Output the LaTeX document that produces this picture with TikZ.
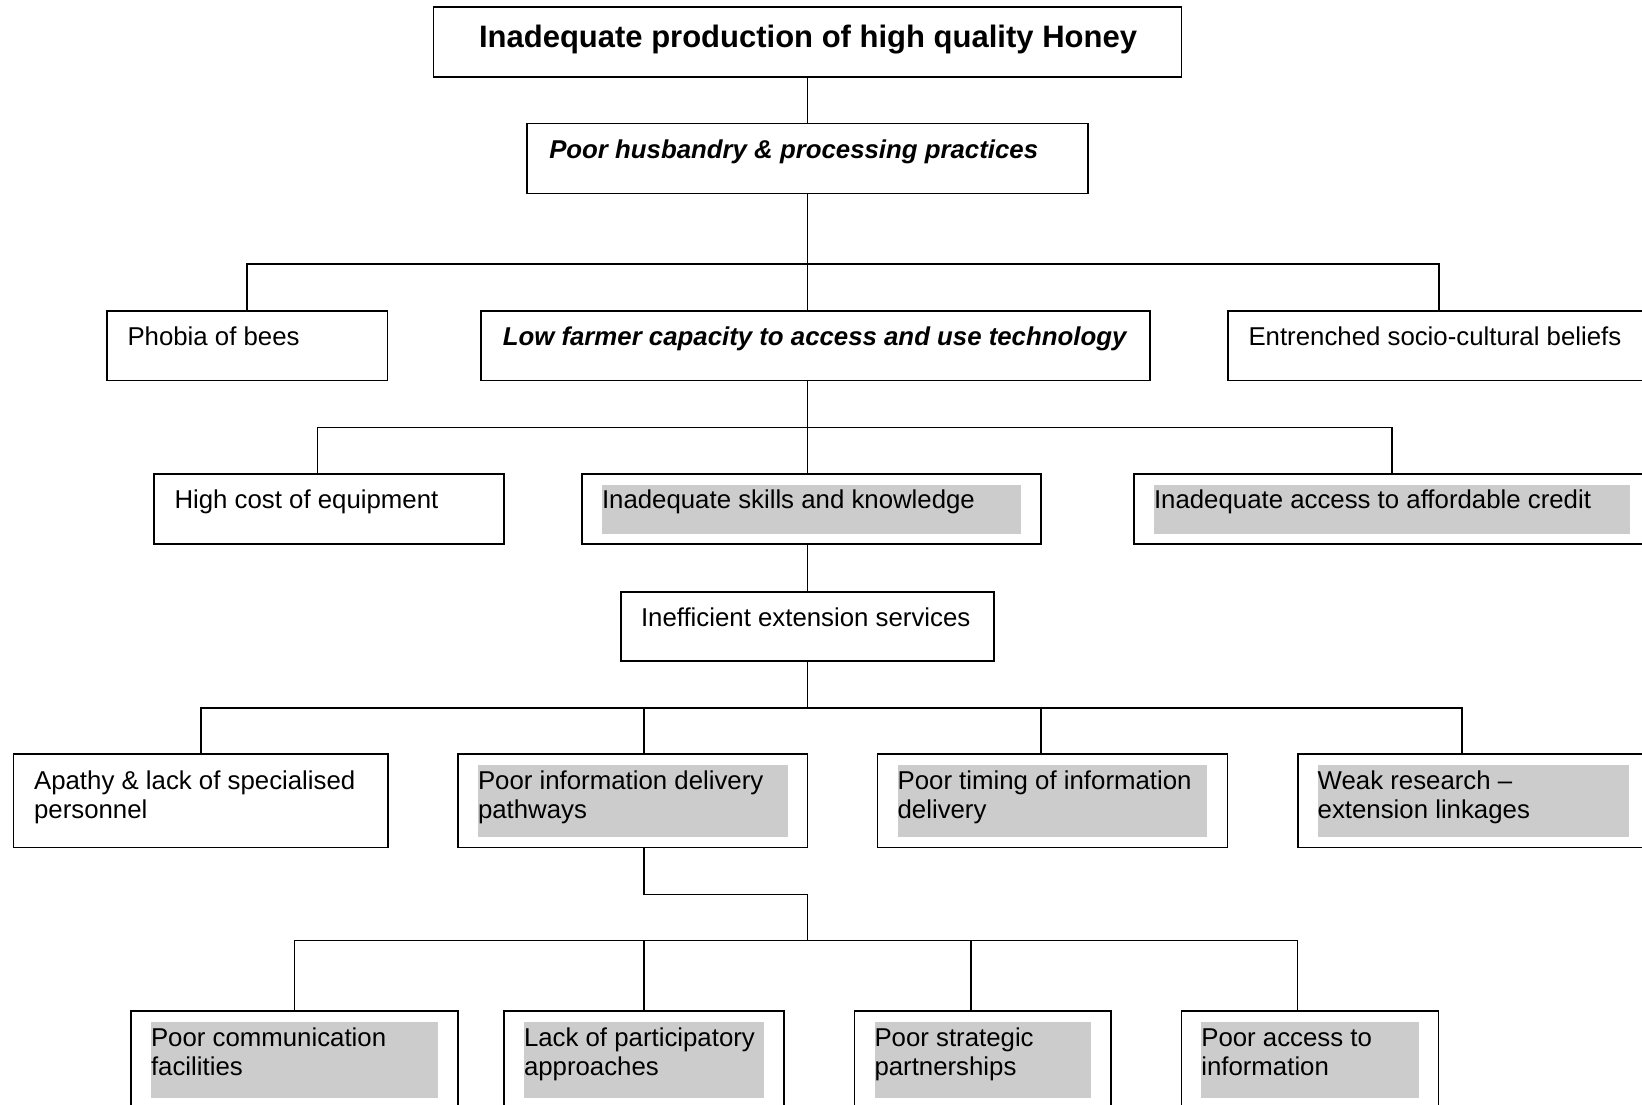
\documentclass[tikz,border=0pt]{standalone}
\usepackage{fontspec}
\setmainfont{Liberation Sans}

\tikzset{
  box/.style={draw, rectangle, inner sep=0pt},
  hlbox/.style={box, path picture={
      \fill[black!20] ([shift={(20,10.5)}]path picture bounding box.north west)
        rectangle ([shift={(-20,-10.5)}]path picture bounding box.south east);}},
  lbl/.style={anchor=base west, inner sep=0pt, align=left,
      font=\fontsize{25.8}{29}\selectfont},
}

\begin{document}
\begin{tikzpicture}[x=1pt, y=-1pt, line width=1.6pt]
  \useasboundingbox (0,0) rectangle (1642,1104);
  \clip (0,0) rectangle (1642,1104);
  % Boxes, top to bottom
  \node[box, minimum width=748pt, minimum height=70pt] (honey) at (807.5,42) {};
  \node[box, minimum width=560.5pt, minimum height=70pt] (husbandry) at (807.5,158.5) {};
  \node[box, minimum width=280.5pt, minimum height=69.5pt] (phobia) at (247.25,345.75) {};
  \node[box, minimum width=669pt, minimum height=69.5pt] (capacity) at (815.25,345.75) {};
  \node[box, minimum width=422pt, minimum height=69.5pt] (beliefs) at (1439,345.75) {};
  \node[box, minimum width=350pt, minimum height=70pt] (cost) at (329,509) {};
  \node[hlbox, minimum width=459pt, minimum height=70pt] (skills) at (811.5,509) {};
  \node[hlbox, minimum width=516pt, minimum height=70pt] (credit) at (1392,509) {};
  \node[box, minimum width=373pt, minimum height=69pt] (extension) at (807.5,626.25) {};
  \node[box, minimum width=374.4pt, minimum height=93.5pt] (apathy) at (200.8,800.75) {};
  \node[hlbox, minimum width=349.5pt, minimum height=93.5pt] (delivery) at (632.75,800.75) {};
  \node[hlbox, minimum width=349.7pt, minimum height=93.5pt] (timing) at (1052.45,800.75) {};
  \node[hlbox, minimum width=351.3pt, minimum height=93.5pt] (linkages) at (1473.35,800.75) {};
  \node[hlbox, minimum width=327pt, minimum height=97pt] (comms) at (294.5,1059.5) {};
  \node[hlbox, minimum width=280pt, minimum height=97pt] (participatory) at (644,1059.5) {};
  \node[hlbox, minimum width=256.5pt, minimum height=97pt] (partners) at (982.75,1059.5) {};
  \node[hlbox, minimum width=257.2pt, minimum height=97pt] (access) at (1309.9,1059.5) {};

  % Texts (two-line texts sit on their last baseline)
  \node[lbl, anchor=base, font=\fontsize{31}{35}\selectfont\bfseries] (honey-t)
    at ([shift={(0.5,41)}]honey.north) {Inadequate production of high quality Honey};
  \node[lbl, font=\fontsize{25.8}{29}\selectfont\bfseries\itshape] (husbandry-t)
    at ([shift={(22,36)}]husbandry.north west) {Poor husbandry \& processing practices};
  \node[lbl] (phobia-t) at ([shift={(20.5,35.5)}]phobia.north west) {Phobia of bees};
  \node[lbl, font=\fontsize{25.8}{29}\selectfont\bfseries\itshape] (capacity-t)
    at ([shift={(22,35.5)}]capacity.north west) {Low farmer capacity to access and use technology};
  \node[lbl] (beliefs-t) at ([shift={(20.5,35.5)}]beliefs.north west) {Entrenched socio-cultural beliefs};
  \node[lbl] (cost-t) at ([shift={(20.5,35.5)}]cost.north west) {High cost of equipment};
  \node[lbl] (skills-t) at ([shift={(20,35.5)}]skills.north west) {Inadequate skills and knowledge};
  \node[lbl] (credit-t) at ([shift={(20,35.5)}]credit.north west) {Inadequate access to affordable credit};
  \node[lbl] (extension-t) at ([shift={(20,35.5)}]extension.north west) {Inefficient extension services};
  \node[lbl] (apathy-t) at ([shift={(20.5,64.8)}]apathy.north west) {Apathy \& lack of specialised\\personnel};
  \node[lbl] (delivery-t) at ([shift={(20,64.8)}]delivery.north west) {Poor information delivery\\pathways};
  \node[lbl] (timing-t) at ([shift={(20,64.8)}]timing.north west) {Poor timing of information\\delivery};
  \node[lbl] (linkages-t) at ([shift={(20,64.8)}]linkages.north west) {Weak research –\\extension linkages};
  \node[lbl] (comms-t) at ([shift={(20,64.8)}]comms.north west) {Poor communication\\facilities};
  \node[lbl] (participatory-t) at ([shift={(20,64.8)}]participatory.north west) {Lack of participatory\\approaches};
  \node[lbl] (partners-t) at ([shift={(20,64.8)}]partners.north west) {Poor strategic\\partnerships};
  \node[lbl] (access-t) at ([shift={(20,64.8)}]access.north west) {Poor access to\\information};

  % Junctions of the tree
  \coordinate (j1) at (807.5,264);
  \coordinate (j2) at (807.5,427.3);
  \coordinate (j3) at (807.5,708);
  \coordinate (j4) at (644,894.3);
  \coordinate (j5) at (807.5,940.5);
  \coordinate (c1) at (317.5,427.3);
  \coordinate (d1) at (644,708);
  \coordinate (d2) at (1041,708);
  \coordinate (d3) at (1462,708);
  \coordinate (e1) at (971,940.5);
  \coordinate (e2) at (1297.5,940.5);

  % Draw the links
  \draw (honey.south) -- (husbandry.north);
  \draw (husbandry.south) -- (j1);
  \draw (phobia.north) |- (j1) -| (beliefs.north);
  \draw (j1) -- (j1 |- capacity.north);
  \draw (j1 |- capacity.south) -- (j2);
  \draw (c1 |- cost.north) -- (c1) -- (j2) -| (credit.north);
  \draw (j2) -- (j2 |- skills.north);
  \draw (j2 |- skills.south) -- (extension.north);
  \draw (extension.south) -- (j3);
  \draw (apathy.north) |- (j3) -- (d3) -- (d3 |- linkages.north);
  \draw (d1) -- (d1 |- delivery.north);
  \draw (d2) -- (d2 |- timing.north);
  \draw (d1 |- delivery.south) -- (j4) -| (j5);
  \draw (comms.north) |- (j5) -- (e2) -- (e2 |- access.north);
  \draw (participatory.north) -- (participatory.north |- j5);
  \draw (e1) -- (e1 |- partners.north);
\end{tikzpicture}
\end{document}
